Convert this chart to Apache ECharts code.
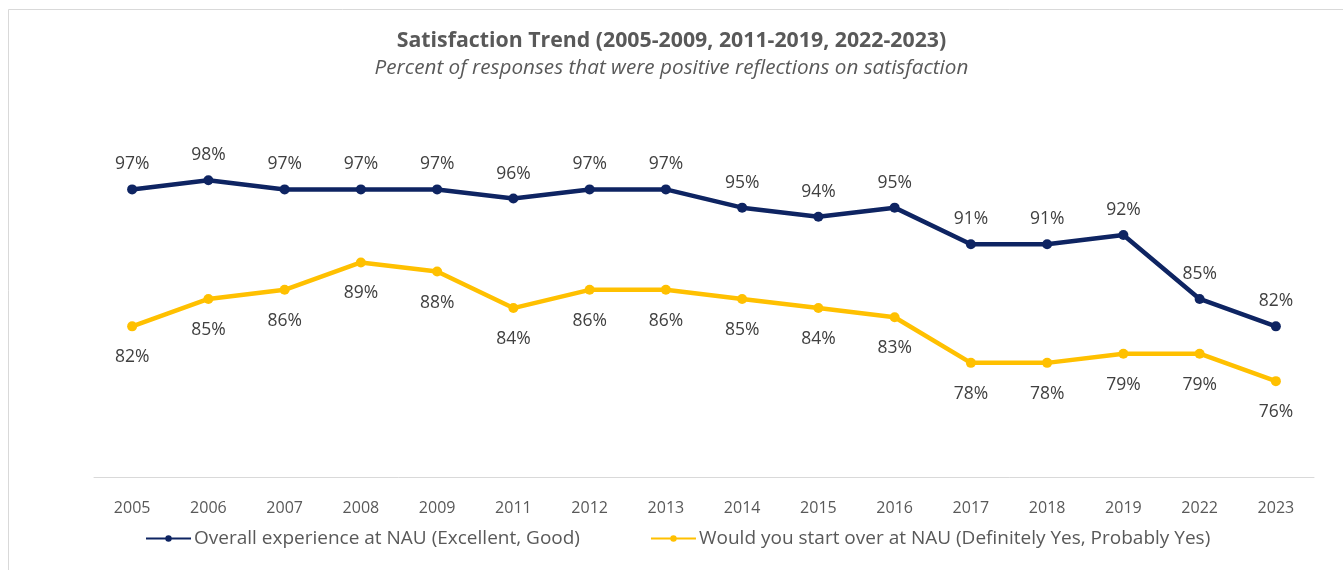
<!DOCTYPE html>
<html>
<head>
<meta charset="utf-8">
<script src="https://cdn.jsdelivr.net/npm/echarts@6/dist/echarts.min.js"></script>
<style>
html,body{margin:0;padding:0;background:#fff;}
#chart{width:1343px;height:570px;}
</style>
</head>
<body>
<div id="chart"></div>
<script>
const years = ['2005','2006','2007','2008','2009','2011','2012','2013','2014','2015','2016','2017','2018','2019','2022','2023'];
const overallName = 'Overall experience at NAU (Excellent, Good)';
const overall = [97,98,97,97,97,96,97,97,95,94,95,91,91,92,85,82];
const startOverName = 'Would you start over at NAU (Definitely Yes, Probably Yes)';
const startOver = [82,85,86,89,88,84,86,86,85,84,83,78,78,79,79,76];
const titleText = 'Satisfaction Trend (2005-2009, 2011-2019, 2022-2023)';
const subtitleText = 'Percent of responses that were positive reflections on satisfaction';

const FONT = 'Open Sans';
const chart = echarts.init(document.getElementById('chart'));
chart.setOption({
  animation: false,
  backgroundColor: '#fff',
  textStyle: {fontFamily: FONT},
  graphic: [{
    type: 'rect', left: 6, top: 7,
    shape: {width: 1335, height: 570},
    style: {fill: 'none', stroke: '#d9d9d9', lineWidth: 1}
  }],
  title: {
    text: titleText,
    subtext: subtitleText,
    left: 'center',
    top: 25,
    itemGap: 7,
    textStyle: {fontFamily: FONT, fontSize: 21.3, fontWeight: 'bold', color: '#595959'},
    subtextStyle: {fontFamily: FONT, fontSize: 20.7, fontStyle: 'italic', color: '#595959'}
  },
  legend: {
    left: 145, top: 529, padding: 0,
    itemWidth: 45, itemHeight: 8, itemGap: 70,
    textStyle: {fontFamily: FONT, fontSize: 19, color: '#595959', padding: [0,0,0,-2]},
    data: [overallName, startOverName]
  },
  grid: {left: 94, right: 29, top: 162, bottom: 93, containLabel: false},
  xAxis: {
    type: 'category',
    data: years,
    boundaryGap: true,
    axisLine: {lineStyle: {color: '#d9d9d9', width: 1}},
    axisTick: {show: false},
    axisLabel: {fontFamily: FONT, fontSize: 16, color: '#595959', margin: 23}
  },
  yAxis: {
    type: 'value', min: 65.5, max: 100,
    show: false, splitLine: {show: false}
  },
  series: [
    {
      name: overallName, type: 'line', data: overall,
      color: '#0e2462',
      lineStyle: {width: 4.5, color: '#0e2462'},
      symbol: 'circle', symbolSize: 10,
      itemStyle: {color: '#0e2462'},
      label: {show: true, position: 'top', distance: 11, formatter: '{c}%',
        fontFamily: FONT, fontSize: 17.5, color: '#404040'}
    },
    {
      name: startOverName, type: 'line', data: startOver,
      color: '#ffc000',
      lineStyle: {width: 4.5, color: '#ffc000'},
      symbol: 'circle', symbolSize: 10,
      itemStyle: {color: '#ffc000'},
      label: {show: true, position: 'bottom', distance: 17, formatter: '{c}%',
        fontFamily: FONT, fontSize: 17.5, color: '#404040'}
    }
  ]
});
</script>
</body>
</html>
